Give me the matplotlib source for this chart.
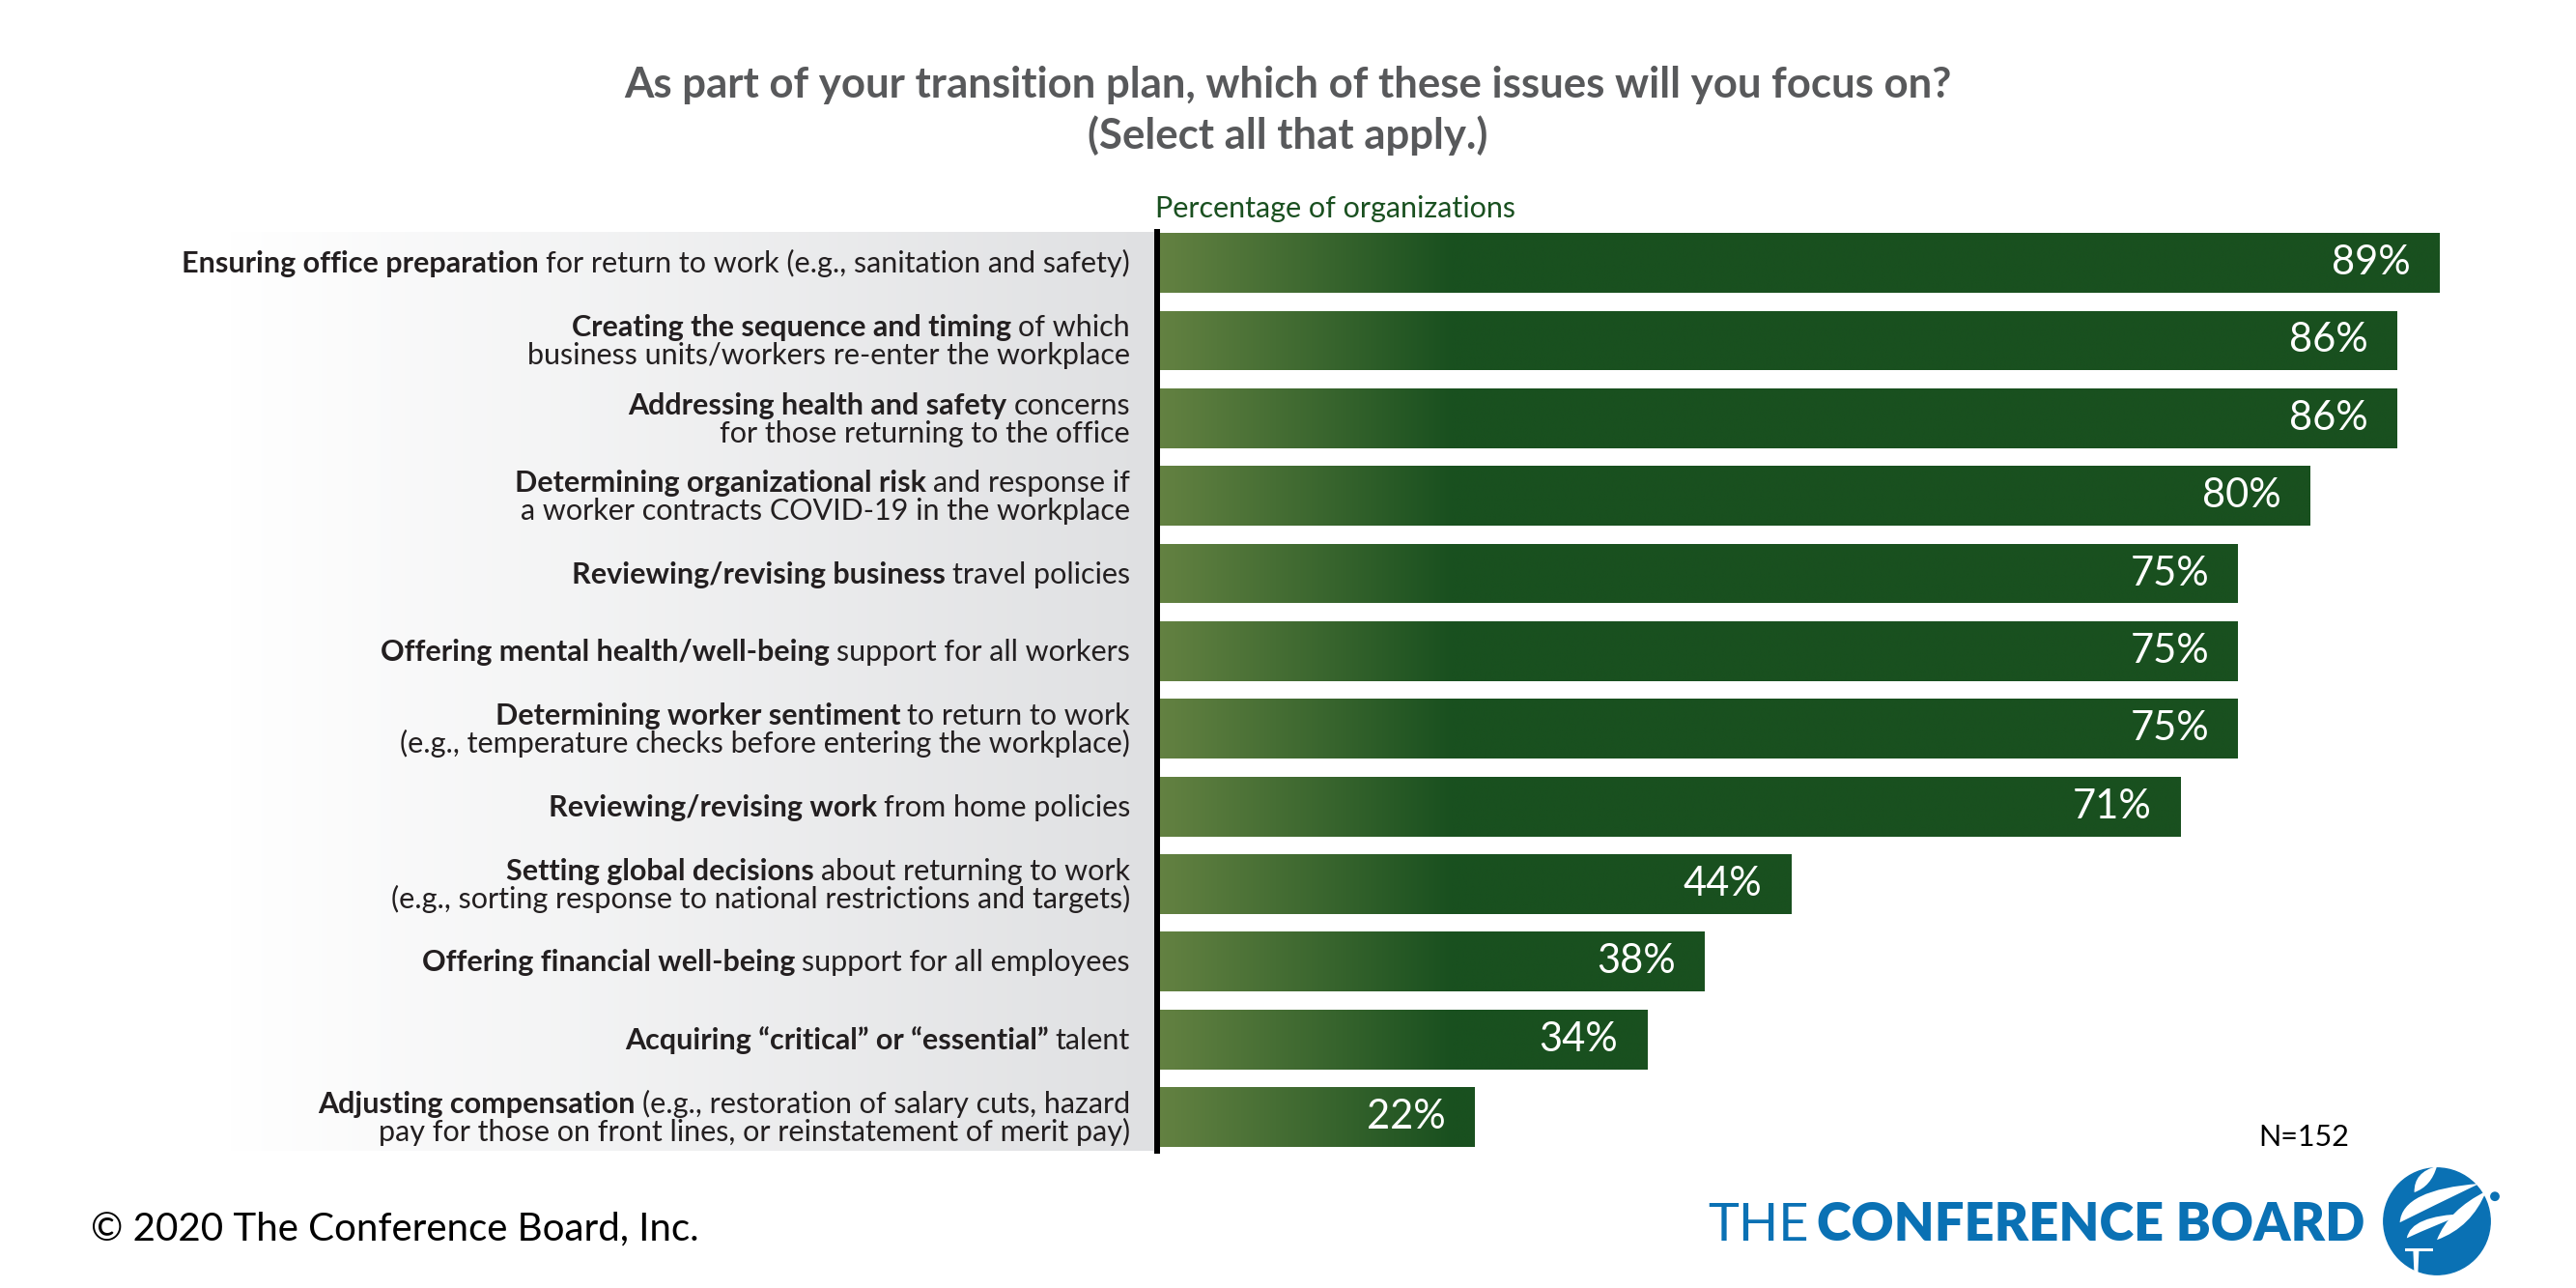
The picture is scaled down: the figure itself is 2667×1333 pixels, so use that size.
import numpy as np
import matplotlib.pyplot as plt
import matplotlib.transforms as mtransforms
from matplotlib.colors import LinearSegmentedColormap
from matplotlib.patches import Circle, PathPatch, Polygon
from matplotlib.path import Path

plt.rcParams['font.family'] = ['Lato', 'DejaVu Sans']

# data
title_lines = ["As part of your transition plan, which of these issues will you focus on?",
               "(Select all that apply.)"]
bold_parts = [
    "Ensuring office preparation",
    "Creating the sequence and timing",
    "Addressing health and safety",
    "Determining organizational risk",
    "Reviewing/revising business",
    "Offering mental health/well-being",
    "Determining worker sentiment",
    "Reviewing/revising work",
    "Setting global decisions",
    "Offering financial well-being",
    "Acquiring \u201ccritical\u201d or \u201cessential\u201d",
    "Adjusting compensation",
]
rest_first = [
    "for return to work (e.g., sanitation and safety)",
    "of which",
    "concerns",
    "and response if",
    "travel policies",
    "support for all workers",
    "to return to work",
    "from home policies",
    "about returning to work",
    "support for all employees",
    "talent",
    "(e.g., restoration of salary cuts, hazard",
]
second_lines = [
    "",
    "business units/workers re-enter the workplace",
    "for those returning to the office",
    "a worker contracts COVID-19 in the workplace",
    "",
    "",
    "(e.g., temperature checks before entering the workplace)",
    "",
    "(e.g., sorting response to national restrictions and targets)",
    "",
    "",
    "pay for those on front lines, or reinstatement of merit pay)",
]
values = [89, 86, 86, 80, 75, 75, 75, 71, 44, 38, 34, 22]

W, H = 2667, 1333
fig = plt.figure(figsize=(W / 100, H / 100), dpi=100)


def fx(px):
    return px / W


def fy(py):
    return 1 - py / H


top_px, bot_px, zero_px = 240, 1191, 1198

# grey panel behind the labels
panel = fig.add_axes([0, fy(bot_px), fx(zero_px), (bot_px - top_px) / H])
g = np.linspace(0, 1, 800)
t = np.clip((g - 0.2) / 0.8, 0, 1)
white = np.array([1.0, 1.0, 1.0])
grey = np.array([0xdf, 0xe0, 0xe2]) / 255
img = white + (grey - white) * t[:, None]
panel.imshow(img[None, :, :], aspect='auto', extent=(0, 1, 0, 1))
panel.axis('off')

# bars
ax = fig.add_axes([fx(zero_px), fy(bot_px), 90 * 14.92 / W, (bot_px - top_px) / H])
y = np.arange(len(values))
bars = ax.barh(y, values, height=0.77, color='none', edgecolor='none')
cmap = LinearSegmentedColormap.from_list('grn', ['#648242', '#19501f'])
gx = np.clip(np.linspace(0, 90, 900) / 20.5, 0, 1)
for b in bars:
    im = ax.imshow(gx[None, :], cmap=cmap, vmin=0, vmax=1, aspect='auto',
                   extent=(0, 90, b.get_y() + b.get_height(), b.get_y()),
                   interpolation='bilinear')
    im.set_clip_path(b)
ax.set_xlim(0, 90)
ax.set_ylim(11.435, -0.4)
ax.axis('off')
ax.axvline(0, color='black', lw=4.3, zorder=5, clip_on=False)

for yi, v in zip(y, values):
    ax.text(v - 2.0, yi, f"{v}%", ha='right', va='center', color='white', fontsize=30)

# category labels with bold lead-in
trans = mtransforms.blended_transform_factory(fig.transFigure, ax.transData)
renderer = fig.canvas.get_renderer()
label_x = fx(1170)
lab_fs = 22
lab_col = '#231f20'
for i, (bp, rp, sl) in enumerate(zip(bold_parts, rest_first, second_lines)):
    dy1 = 4 if sl else -10
    tr1 = mtransforms.offset_copy(trans, fig=fig, y=dy1, units='dots')
    t1 = fig.text(label_x, i, rp, transform=tr1, ha='right', va='baseline',
                  fontsize=lab_fs, color=lab_col)
    bb = t1.get_window_extent(renderer)
    fig.text((bb.x0 - 7) / W, i, bp, transform=mtransforms.blended_transform_factory(
        fig.transFigure, tr1), ha='right', va='baseline', fontsize=lab_fs,
        fontweight='bold', color=lab_col)
    if sl:
        tr2 = mtransforms.offset_copy(trans, fig=fig, y=-25, units='dots')
        fig.text(label_x, i, sl, transform=tr2, ha='right', va='baseline',
                 fontsize=lab_fs, color=lab_col)

# titles and notes
fig.text(0.5, fy(88), title_lines[0], ha='center', va='center', fontsize=31.5,
         fontweight='bold', color='#58595b')
fig.text(0.5, fy(140), title_lines[1], ha='center', va='center', fontsize=31.5,
         fontweight='bold', color='#58595b')
fig.text(fx(1196), fy(216), "Percentage of organizations", ha='left', va='center',
         fontsize=22, color='#1a5020')
fig.text(fx(2432), fy(1177), "N=152", ha='right', va='center', fontsize=22, color='black')
fig.text(fx(94), fy(1272), "\u00a9 2020 The Conference Board, Inc.", ha='left',
         va='center', fontsize=29, color='black')

# logo
blue = '#0a71b4'
tb = fig.text(fx(2448), fy(1268), "CONFERENCE BOARD", ha='right', va='center',
              fontsize=39, fontweight='heavy', color=blue)
bb = tb.get_window_extent(renderer)
fig.text((bb.x0 - 8) / W, fy(1268), "THE", ha='right', va='center', fontsize=39,
         fontweight='normal', color=blue)

lax = fig.add_axes([fx(2463), fy(1324), 120 / W, 120 / H])
lax.set_xlim(-1, 1)
lax.set_ylim(-1, 1)
lax.set_aspect('equal')
lax.axis('off')
lax.add_patch(Circle((0, 0), 0.92, color=blue))
lax.add_patch(Circle((1.0, 0.43), 0.07, color=blue, clip_on=False))


def crescent(base, tip, c1, c2):
    verts = [base, c1, tip, c2, base, base]
    codes = [Path.MOVETO, Path.CURVE3, Path.CURVE3, Path.CURVE3, Path.CURVE3, Path.CLOSEPOLY]
    return PathPatch(Path(verts, codes), color='white', lw=0)


lax.add_patch(crescent((-0.39, 0.5), (0.0, 0.95), (-0.4, 0.85), (-0.1, 0.6)))
lax.add_patch(crescent((-0.64, -0.02), (0.73, 0.65), (-0.6, 0.55), (-0.1, 0.25)))
lax.add_patch(crescent((-0.52, -0.29), (0.48, 0.13), (-0.45, 0.1), (0.0, -0.05)))
lax.add_patch(crescent((0.0, -0.32), (0.85, 0.52), (0.2, 0.2), (0.6, -0.1)))
lax.add_patch(Polygon([(-0.55, -0.46), (-0.06, -0.46), (-0.06, -0.51), (-0.55, -0.51)],
                      color='white', lw=0))
lax.add_patch(Polygon([(-0.41, -0.51), (-0.31, -0.51), (-0.33, -0.95), (-0.39, -0.95)],
                      color='white', lw=0))

fig.savefig('out.png', dpi=100)
